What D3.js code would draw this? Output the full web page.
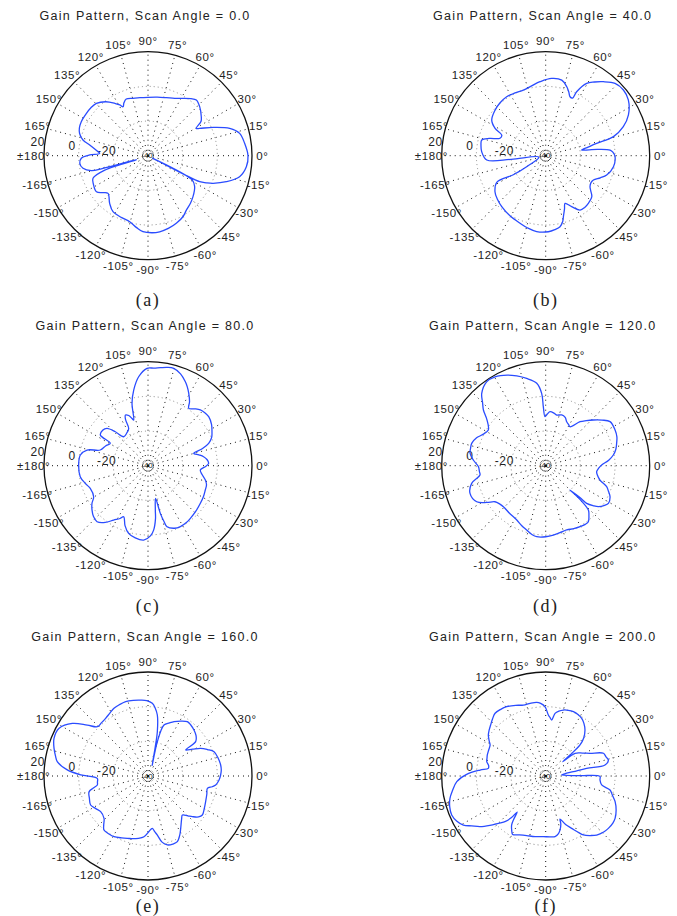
<!DOCTYPE html>
<html>
<head>
<meta charset="utf-8">
<script src="https://cdn.jsdelivr.net/npm/d3@7"></script>
<style>
  html, body { margin: 0; padding: 0; background: #fff; }
  svg { display: block; }
</style>
</head>
<body>
<svg id="chart" width="677" height="916"></svg>
<script>
// Angular tick labels (degrees, counter-clockwise from the +x axis)
const angleTicks = [0, 15, 30, 45, 60, 75, 90, 105, 120, 135, 150, 165, 180,
                    -165, -150, -135, -120, -105, -90, -75, -60, -45, -30, -15];
// Radial range and labelled rings (dB)
const radialDomain = [-40, 20];
const ringTicks = [-20, 0, 20];
const scanAngles = [0.0, 40.0, 80.0, 120.0, 160.0, 200.0];
const panelTags = ["(a)", "(b)", "(c)", "(d)", "(e)", "(f)"];

// Gain patterns: [azimuth in degrees, gain in dB]
const gainA = [[-177.8,-1.5],[-173.6,-0.4],[-169,-1.8],[-165.2,-6.2],[-164.2,-13],[-161,-33],[-161.5,-13.7],[-157.7,-5.7],[-152.6,-4.5],[-145,-3.7],[-140.6,-6.4],[-136.7,-8.3],[-128.8,-4.7],[-122,-1.9],[-113,-1.2],[-105.5,-0.5],[-99,2],[-93.8,3.9],[-87,4.5],[-81.3,4.4],[-74,3.5],[-67.3,2.3],[-60,0.5],[-54.8,-1.6],[-48,-3.3],[-42.3,-4.9],[-37,-6.5],[-33.6,-7.7],[-28.8,-10.8],[-27.7,-37],[-26.7,-6.6],[-25,-3],[-23,0.8],[-18.4,7.6],[-12.9,14.2],[-6.4,17.1],[0,17.7],[7.3,16.2],[13.7,14.4],[18.5,9.7],[23.5,1],[27.9,-6.3],[29.5,-8],[33,-3.5],[36.2,-1.9],[43.5,1.1],[49,2.5],[53,1.2],[58.6,-1.2],[65,-3.5],[72.5,-4.9],[81,-5.8],[90,-6.3],[98,-6.2],[104.7,-5.8],[111,-5],[114.5,-6.5],[117,-8.3],[119,-6.5],[122,-4.5],[128,-0.5],[134.6,2.4],[140,3],[145.5,3.1],[153,3.2],[158,2.7],[162,1.5],[166.4,-1.4],[169.6,-5.8],[174,-10],[177.2,-12.1],[179.3,-6.4]];

const gainB = [[-175.8,-5.9],[-174,-20],[-168,-36],[-150,-27.3],[-149.5,-18.3],[-151.5,-8],[-144.6,-4.1],[-138,-2.5],[-130.8,-1.2],[-121,0.3],[-110.8,1.7],[-104,3],[-96.8,4.1],[-88,3.9],[-83,3],[-78.6,1.8],[-75.5,-0.8],[-73.8,-3.4],[-70.5,-7.5],[-67.9,-10.3],[-63,-7],[-57.7,-2.9],[-53,-2.6],[-48.2,-3.1],[-41.7,-4.4],[-38,-7],[-35,-8.8],[-31,-9.6],[-27,-9.1],[-22,-6],[-17.6,-3.1],[-9.2,-0.4],[-0.8,0],[3,-1.2],[5,-2.7],[7,-10],[9,-19],[11.5,-15],[13.6,-9.8],[15.7,0.6],[20.5,7.8],[26.2,13.2],[34,17.5],[40.2,18.7],[46.2,17.8],[52.1,14.1],[56.5,11],[60.5,8],[64.2,1],[65,-3.3],[67.6,-3.2],[70,-1],[73,1.6],[78,4.6],[85.6,4.7],[94.4,2.8],[101,1.2],[108.8,0],[116,0.3],[123.5,0.8],[131,0.3],[138,-0.7],[146.6,-2.7],[151.6,-6.8],[154.8,-12],[159,-11.8],[163,-6],[166.2,-2],[171,-2.2],[176.4,-3]];

const gainC = [[-170.8,-0.4],[-164,-2.5],[-158.5,-4.2],[-150.3,-3.9],[-146,-1],[-141.6,1.2],[-137,3],[-132.3,3.7],[-127,1],[-122.3,-2.9],[-118,-5.5],[-115.5,-7.4],[-111,-3],[-106,0.6],[-100,2.3],[-93.3,3],[-88,0.5],[-85,-2.7],[-82,-9],[-80.6,-14.1],[-77,-20.6],[-75.5,-11.6],[-74,-6.5],[-72.7,-3.1],[-67,-0.8],[-62,-0.2],[-56,-0.4],[-51.2,-1],[-43,-2],[-35.7,-2.8],[-29,-3.4],[-23,-4.1],[-18,-4.5],[-14,-5.9],[-9,-8.5],[-4.7,-9.7],[-1,-7],[2.2,-5],[6,-5.8],[9.2,-7.5],[12,-10],[15.1,-12.7],[17.5,-7],[20.2,-2.7],[24,0.2],[28,1.8],[33,3.7],[38.9,5],[43,4.8],[46.8,4.1],[50.5,2.5],[54.6,0.6],[57,4],[60.6,7.9],[63.5,10.8],[66,13],[70.5,16.2],[75.2,18.1],[79,17.8],[82.8,17],[86.5,16.4],[90.6,16.2],[96,11.6],[100.7,4.4],[104.4,-2.9],[107.4,-12.4],[108.7,-11.2],[111,-9],[114,-8],[116,-10.5],[117.4,-15.8],[123,-17.5],[130,-18.2],[133.9,-12.8],[137.7,-8],[142,-6.8],[147.2,-7.3],[149.3,-14.7],[155,-13],[161.8,-11],[165.6,-3.7],[171,-0.5],[178,0]];

const gainD = [[-179.1,-1.2],[-175,-1.6],[-171.9,-1.7],[-166.6,3.9],[-159.9,6.5],[-152.4,4.9],[-148,0],[-144.6,-4.1],[-140,-5.5],[-135.9,-6],[-127,-5.5],[-118,-4.5],[-112,-2.8],[-106.5,-1.3],[-101,0.6],[-97.2,1.3],[-90,1],[-83.7,0.3],[-78,-0.5],[-71.9,-1],[-66,-0.2],[-60.6,0.4],[-56,0.8],[-52.7,0.6],[-49,-2],[-46.1,-4.5],[-44.5,-12.7],[-45,-20.2],[-43,-13],[-42.6,-7.9],[-40,-4],[-37.9,-1.5],[-34,1],[-31,2.2],[-25.7,1.2],[-22,-1],[-19,-2.8],[-14.8,-7.6],[-10,-9.8],[-6.7,-10.4],[-3,-9.5],[0.7,-7.7],[5,-3.5],[9,-0.5],[13,1.5],[17.5,2.9],[22,4.3],[27.2,5],[34.4,5],[39,1.8],[43.8,-1.9],[48,-5],[52,-7.8],[58,-13.5],[61,-12.8],[64.5,-11.9],[68,-10],[72.5,-9.3],[77.8,-10.1],[81,-9.3],[85.4,-8.7],[88,-10],[90.8,-11.7],[92.3,-6],[93.2,1.8],[96.2,7.8],[102.3,11.5],[107.9,14.4],[113,16.8],[119.7,19],[125,19.2],[131.5,15.7],[135,11.5],[138.2,8.2],[142,3],[148.1,-1],[154.4,0.9],[158,3],[163.2,4.6],[167,4.5],[170.7,4.2],[175.5,1.9]];

const gainE = [[-177.4,-10.7],[-173,-10.6],[-169.9,-10.3],[-167.5,-7.5],[-165.1,-4.8],[-159,-3.8],[-153.2,-2.9],[-148,-4.5],[-143,-5.8],[-136.1,-4.8],[-132,-1.8],[-129.2,0.2],[-124,0.3],[-119.3,0.1],[-113,-1.2],[-108.3,-2.1],[-101,-3.2],[-93.8,-4.9],[-89,-8],[-85.3,-9.7],[-83,-7.5],[-81,-5.5],[-78,-1],[-74.3,1.3],[-70,1.8],[-65.9,1.5],[-61.5,-1.5],[-58,-4.4],[-52,-8.5],[-48.6,-10],[-45,-7.5],[-42.5,-5.3],[-39,-2.5],[-35.7,-1.4],[-30,-2.5],[-24,-3.6],[-17,-4.5],[-11.7,-5],[-9.5,-2.5],[-7.6,-0.6],[-3.5,1],[0.8,1.9],[4.5,2.4],[8.6,2.4],[14,1.8],[20.2,0.6],[24,-2.5],[27.7,-5.7],[31,-10],[34.6,-13.6],[35.8,-6.1],[40,-3.8],[45,-2.5],[50,-1.6],[54.1,-1.3],[59,-3],[64.4,-5.2],[68,-7],[72.6,-9.2],[74.8,-19.5],[68.5,-33.5],[75.8,-23.5],[78.1,-13.9],[81.3,-4.4],[84,-0.5],[86.6,2],[91,3.5],[95.5,4],[101,4.5],[106.7,4.8],[112,4.3],[116.7,3.7],[121,2.5],[126.3,1.3],[131,0.8],[135.8,0.8],[140,5.7],[145.2,13.2],[151.8,18.2],[158.2,18.4],[163.6,16.5],[168,14.5],[171,13],[175.7,6.7],[179.1,-1.2]];

const gainF = [[-176.4,11.4],[-171,14.5],[-166.9,16.7],[-162,18.2],[-157.5,18.7],[-153,17.5],[-149.2,15.3],[-146,11.5],[-142.3,7.8],[-138.5,3],[-135,-1.4],[-131.5,-5],[-129.5,-8.7],[-128.4,-13.5],[-126.5,-9],[-124.8,-5.6],[-122,-3],[-119.5,-1.3],[-114,-2.8],[-107.7,-3.9],[-100,-4.5],[-92.2,-5],[-86,-4.8],[-81.3,-4.6],[-77.5,-6],[-75.1,-7.8],[-72.5,-11],[-71.6,-13.8],[-67.5,-9.5],[-63.6,-6.3],[-60,-2.5],[-57.4,0.4],[-53,3],[-49.2,5],[-44,6.5],[-39.9,7.1],[-35,7.3],[-31.4,6.9],[-26,5.2],[-20.3,2.7],[-16,0],[-12.3,-2],[-9.1,-7.3],[-4,-8.6],[-0.4,-8.7],[0.6,-20.2],[3.6,-30.8],[6.5,-29],[8.9,-23.8],[10.6,-16],[10.5,-5.2],[14.3,-2.7],[17.5,-3.5],[21.5,-4.2],[27.1,-11.3],[32,-15],[37.7,-18.6],[40,-27.2],[40.8,-21.5],[42.1,-13.3],[45,-9],[49.5,-5.1],[54,-2.5],[58,-0.8],[62,0],[66.7,0.4],[71,0.1],[75,-0.6],[78.5,-1.8],[81.5,-3.5],[83.9,-7.5],[86,-6],[87.5,-4.8],[90.6,0],[94,2],[97,2.8],[102,2.9],[107.5,2.9],[113,4.3],[119.4,5.9],[124,6.4],[128.9,6.5],[133,5],[137.2,3.3],[141,2],[144.4,0.7],[148,-1.5],[150.9,-3.3],[155,-3.8],[160.2,-4.2],[163,-4.6],[166.3,-5],[169.5,-6.5],[172.4,-6.6],[174.8,-2],[178.8,5.6]];

const patterns = [gainA, gainB, gainC, gainD, gainE, gainF];

// ---- layout ----
const R = 104;
const colX = [148, 545.7];
const rowY = [155.7, 465.7, 776];
const titleBaseline = [20, 330, 641];
const tagBaseline = [306, 612, 912];

const svg = d3.select("#chart");
const rScale = d3.scaleLinear().domain(radialDomain).range([0, R]);
const toRad = deg => (90 - deg) * Math.PI / 180;   // math angle -> d3 radial angle
const line = d3.lineRadial()
  .angle(d => toRad(d[0]))
  .radius(d => rScale(d[1]))
  .curve(d3.curveCatmullRomClosed.alpha(0.5));

patterns.forEach((data, i) => {
  const col = i % 2, row = Math.floor(i / 2);
  const cx = colX[col], cy = rowY[row];

  // title
  svg.append("text")
    .attr("x", cx - 3).attr("y", titleBaseline[row])
    .attr("text-anchor", "middle")
    .attr("font-family", "Liberation Sans, Arial, sans-serif")
    .attr("font-size", 12.5)
    .attr("letter-spacing", 1.3)
    .attr("fill", "#222")
    .text(`Gain Pattern, Scan Angle = ${scanAngles[i].toFixed(1)}`);

  const g = svg.append("g").attr("transform", `translate(${cx},${cy})`);

  // dotted spokes every 15 degrees
  g.selectAll("line.spoke")
    .data(d3.range(0, 360, 15))
    .join("line")
    .attr("class", "spoke")
    .attr("x1", 0).attr("y1", 0)
    .attr("x2", a => R * Math.cos(a * Math.PI / 180))
    .attr("y2", a => -R * Math.sin(a * Math.PI / 180))
    .attr("stroke", "#111")
    .attr("stroke-width", 1)
    .attr("stroke-dasharray", "1,4");

  // dotted inner rings
  g.selectAll("circle.ring")
    .data(ringTicks.filter(t => t < radialDomain[1]))
    .join("circle")
    .attr("class", "ring")
    .attr("r", t => rScale(t))
    .attr("fill", "none")
    .attr("stroke", "#888")
    .attr("stroke-width", 1)
    .attr("stroke-dasharray", "1,3");

  // outer circle
  g.append("circle")
    .attr("r", rScale(radialDomain[1]))
    .attr("fill", "none")
    .attr("stroke", "#111")
    .attr("stroke-width", 1.3);

  // ring labels
  const ringAng = 173 * Math.PI / 180;
  g.selectAll("text.ring")
    .data(ringTicks)
    .join("text")
    .attr("class", "ring")
    .attr("x", t => (rScale(t) + 7) * Math.cos(ringAng))
    .attr("y", t => -(rScale(t) + 7) * Math.sin(ringAng))
    .attr("text-anchor", "middle")
    .attr("dominant-baseline", "central")
    .attr("font-family", "Liberation Sans, Arial, sans-serif")
    .attr("font-size", 12)
    .attr("letter-spacing", 0.6)
    .attr("fill", "#222")
    .text(t => t);
  g.append("text")
    .attr("x", -1).attr("y", 0)
    .attr("text-anchor", "middle")
    .attr("dominant-baseline", "central")
    .attr("font-family", "Liberation Sans, Arial, sans-serif")
    .attr("font-size", 8)
    .attr("fill", "#222")
    .text(radialDomain[0]);

  // angle labels
  g.selectAll("text.ang")
    .data(angleTicks)
    .join("text")
    .attr("class", "ang")
    .attr("x", a => 1.1 * R * Math.cos(a * Math.PI / 180))
    .attr("y", a => -1.1 * R * Math.sin(a * Math.PI / 180))
    .attr("text-anchor", "middle")
    .attr("dominant-baseline", "central")
    .attr("font-family", "Liberation Sans, Arial, sans-serif")
    .attr("font-size", 11.5)
    .attr("letter-spacing", 0.6)
    .attr("fill", "#222")
    .text(a => (a === 180 ? "\u00b1180" : a) + "\u00b0");

  // gain pattern
  g.append("path")
    .datum(data)
    .attr("d", line)
    .attr("fill", "none")
    .attr("stroke", "#2a4cff")
    .attr("stroke-width", 1.3)
    .attr("stroke-linejoin", "round");

  // sub-figure tag
  svg.append("text")
    .attr("x", cx).attr("y", tagBaseline[row])
    .attr("text-anchor", "middle")
    .attr("font-family", "Liberation Serif, Times New Roman, serif")
    .attr("font-size", 18)
    .attr("letter-spacing", 1.5)
    .attr("fill", "#222")
    .text(panelTags[i]);
});
</script>
</body>
</html>
